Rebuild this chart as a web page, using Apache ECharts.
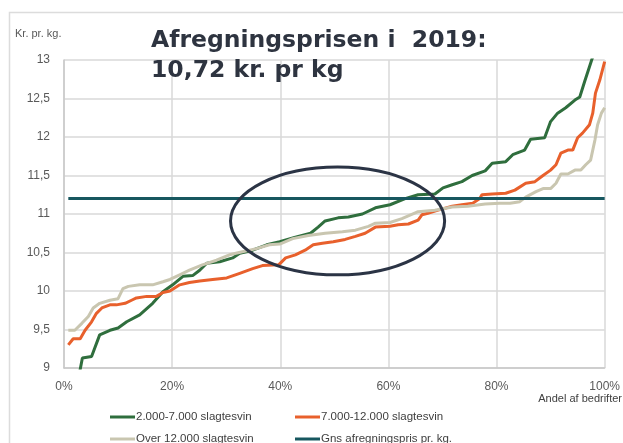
<!DOCTYPE html>
<html>
<head>
<meta charset="utf-8">
<script src="https://cdn.jsdelivr.net/npm/echarts@6/dist/echarts.min.js"></script>
<style>
  html, body { margin: 0; padding: 0; background: #fff; }
  #main { width: 623px; height: 443px; }
</style>
</head>
<body>
<div id="main"></div>
<script>
// andel af bedrifter (%) and price per kg
const greenX = [2.5, 3.4, 5.1, 6.6, 8.5, 10, 11.6, 14, 16.4, 18.3, 20.1, 22, 23.8, 25.1, 26.4, 28.8, 31.2, 32.5, 34.9, 37.5, 39.9, 42.8, 45.6, 47, 48.3, 50.7, 52.6, 55.2, 57.6, 60.3, 63.1, 65.5, 68.6, 70.1, 71.8, 73.6, 75.5, 77.9, 79.2, 81.7, 83, 85.2, 86.3, 88.9, 90, 91.3, 92.8, 94.5, 95.4, 96.3, 97.6, 98.6];
const greenY = [8.8, 9.13, 9.15, 9.43, 9.49, 9.52, 9.6, 9.69, 9.84, 9.99, 10.08, 10.19, 10.2, 10.27, 10.36, 10.38, 10.43, 10.49, 10.53, 10.6, 10.64, 10.7, 10.75, 10.83, 10.91, 10.95, 10.96, 11.0, 11.08, 11.12, 11.2, 11.25, 11.26, 11.34, 11.38, 11.42, 11.5, 11.56, 11.66, 11.68, 11.77, 11.83, 11.97, 11.99, 12.2, 12.31, 12.38, 12.48, 12.52, 12.72, 13.0, 13.2];

const orangeX = [0.8, 1.7, 3.0, 3.9, 5.1, 6.0, 7.0, 8.5, 9.7, 11.3, 12.5, 13.4, 15.3, 17.1, 18.3, 19.6, 21.4, 23.2, 25.1, 27.5, 30.1, 32.5, 34.9, 36.7, 39.7, 41, 42.8, 44.6, 46.1, 47.8, 49.8, 52, 53.9, 55.7, 57.6, 60.3, 61.8, 63.7, 65.5, 66.2, 67.3, 69.2, 71.8, 73.6, 75.6, 76.9, 77.3, 79.2, 81.7, 83.4, 85.4, 87.1, 88.6, 90, 91, 91.9, 93.2, 94.1, 95, 95.9, 97.2, 97.8, 98.3, 99.1, 100];
const orangeY = [9.3, 9.38, 9.38, 9.49, 9.6, 9.71, 9.78, 9.82, 9.82, 9.84, 9.88, 9.91, 9.93, 9.93, 9.98, 10.0, 10.08, 10.11, 10.13, 10.15, 10.17, 10.23, 10.29, 10.33, 10.34, 10.43, 10.47, 10.53, 10.6, 10.62, 10.64, 10.67, 10.71, 10.75, 10.83, 10.84, 10.86, 10.87, 10.92, 10.99, 11.01, 11.05, 11.1, 11.12, 11.14, 11.2, 11.25, 11.26, 11.27, 11.31, 11.4, 11.42, 11.5, 11.57, 11.64, 11.79, 11.83, 11.83, 11.99, 12.05, 12.16, 12.31, 12.57, 12.74, 12.98];

const beigeX = [0.8, 2.0, 3.3, 4.5, 5.4, 6.6, 8.5, 10, 10.9, 11.9, 14, 16.4, 18.3, 19.6, 21.4, 23.2, 25.6, 28.2, 30.6, 33, 35.6, 38, 39.9, 42.3, 45.2, 48.3, 51.5, 53.9, 56.3, 57.6, 60.3, 62.5, 65.5, 68.6, 71.8, 74.7, 77.9, 80.6, 82.5, 84.3, 85.4, 87.3, 88.6, 90, 91, 91.9, 93.2, 94.5, 95.6, 96.5, 97.4, 98.2, 98.7, 99.4, 100];
const beigeY = [9.49, 9.49, 9.58, 9.67, 9.78, 9.84, 9.88, 9.9, 10.03, 10.06, 10.08, 10.08, 10.12, 10.15, 10.21, 10.27, 10.34, 10.4, 10.47, 10.51, 10.55, 10.6, 10.61, 10.68, 10.72, 10.75, 10.77, 10.79, 10.84, 10.88, 10.89, 10.94, 11.03, 11.05, 11.09, 11.1, 11.13, 11.14, 11.14, 11.16, 11.22, 11.29, 11.33, 11.33, 11.4, 11.52, 11.52, 11.57, 11.57, 11.64, 11.7, 11.96, 12.16, 12.31, 12.38];

const avgX = [0.8, 100];
const avgY = [11.2, 11.2];

const seriesNames = ['2.000-7.000 slagtesvin', '7.000-12.000 slagtesvin', 'Over 12.000 slagtesvin', 'Gns afregningspris pr. kg.'];
const seriesColors = ['#2f6e3d', '#e8602c', '#c9c6b0', '#17575f'];

// highlighted area (ellipse), in data units: centre %, centre kr, half width %, half height kr
const ringCenter = [50.6, 10.91];
const ringRadius = [19.8, 0.70];

const zip = (xs, ys) => xs.map((x, i) => [x, ys[i]]);
const seriesData = [zip(greenX, greenY), zip(orangeX, orangeY), zip(beigeX, beigeY), zip(avgX, avgY)];

const labelFont = '"Liberation Sans", sans-serif';

// one legend per entry so the 2x2 layout stays put
const legendSpots = [[110, 411], [295, 411], [110, 433], [295, 433]];
const legends = seriesNames.map((name, i) => ({
  data: [name],
  left: legendSpots[i][0],
  top: legendSpots[i][1],
  padding: 0,
  itemWidth: 25,
  itemHeight: 3,
  icon: 'rect',
  textStyle: { color: '#404040', fontSize: 11.5, fontFamily: labelFont, padding: [0, 0, 0, -4] }
}));

var myChart = echarts.init(document.getElementById('main'));

var option = {
  animation: false,
  title: {
    text: 'Afregningsprisen i  2019:\n10,72 kr. pr kg',
    left: 146,
    top: 21,
    textStyle: {
      fontFamily: '"DejaVu Sans", sans-serif',
      fontSize: 23.5,
      fontWeight: 'bold',
      color: '#2e3440',
      lineHeight: 30
    }
  },
  grid: { left: 64, right: 17, top: 60, bottom: 75 },
  xAxis: {
    type: 'value',
    min: 0,
    max: 100,
    interval: 20,
    axisLine: { show: true, lineStyle: { color: '#c8c8c8', width: 1.5 } },
    axisTick: { show: false },
    axisLabel: {
      formatter: (v) => v + '%',
      color: '#595959',
      fontSize: 12,
      fontFamily: labelFont,
      margin: 13
    },
    splitLine: { show: true, lineStyle: { color: '#d9d9d9', width: 1.5 } }
  },
  yAxis: {
    type: 'value',
    min: 9,
    max: 13,
    interval: 0.5,
    axisLine: { show: true, lineStyle: { color: '#c8c8c8', width: 1.5 } },
    axisTick: { show: false },
    axisLabel: {
      formatter: (v) => String(v).replace('.', ','),
      color: '#595959',
      fontSize: 12,
      fontFamily: labelFont,
      margin: 14
    },
    splitLine: { show: true, lineStyle: { color: '#d9d9d9', width: 1.5 } }
  },
  legend: legends,
  series: seriesData.map((d, i) => ({
    name: seriesNames[i],
    type: 'line',
    data: d,
    showSymbol: false,
    symbol: 'none',
    color: seriesColors[i],
    lineStyle: { width: 3, color: seriesColors[i] }
  }))
};

myChart.setOption(option);

// annotations: frame, axis captions and the ring, placed after the axes exist
var c = myChart.convertToPixel({ gridIndex: 0 }, ringCenter);
var e = myChart.convertToPixel({ gridIndex: 0 }, [ringCenter[0] + ringRadius[0], ringCenter[1] - ringRadius[1]]);

myChart.setOption({
  graphic: [
    {
      type: 'rect',
      left: 7,
      top: 10,
      shape: { width: 700, height: 500 },
      style: { fill: 'none', stroke: '#dcdcdc', lineWidth: 1.5 },
      silent: true
    },
    {
      type: 'text',
      left: 15,
      top: 28,
      style: { text: 'Kr. pr. kg.', fill: '#595959', font: '11px ' + labelFont }
    },
    {
      type: 'text',
      right: 1,
      top: 393,
      style: { text: 'Andel af bedrifter', fill: '#404040', font: '11px ' + labelFont }
    },
    {
      type: 'ellipse',
      shape: { cx: c[0], cy: c[1], rx: e[0] - c[0], ry: e[1] - c[1] },
      style: { fill: 'none', stroke: '#2b3445', lineWidth: 3 },
      z: 100
    }
  ]
});
</script>
</body>
</html>
